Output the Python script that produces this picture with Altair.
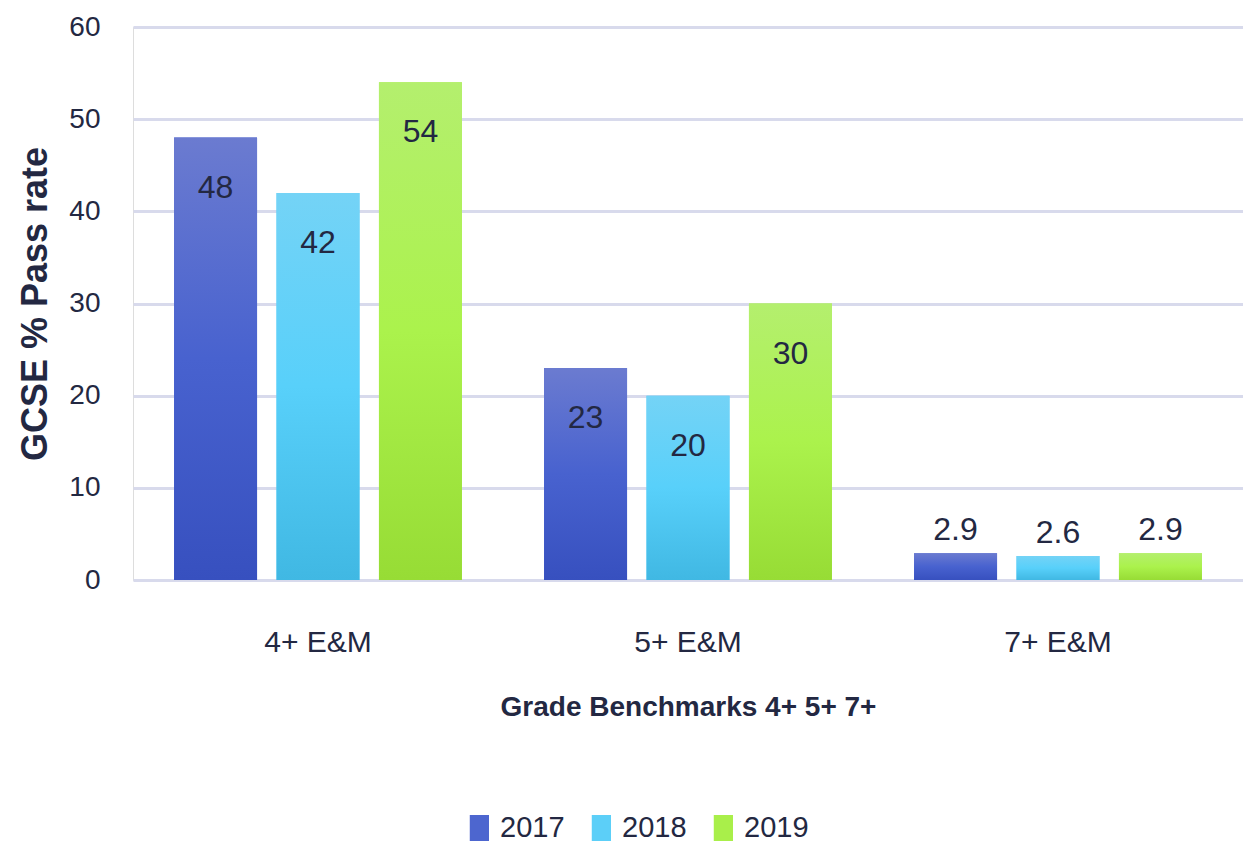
import altair as alt
import pandas as pd

categories = ["4+ E&M", "5+ E&M", "7+ E&M"]
years = ["2017", "2018", "2019"]
values_2017 = [48, 23, 2.9]
values_2018 = [42, 20, 2.6]
values_2019 = [54, 30, 2.9]
y_ticks = [0, 10, 20, 30, 40, 50, 60]

rows = []
for yr, vals in zip(years, [values_2017, values_2018, values_2019]):
    for c, v in zip(categories, vals):
        rows.append({"benchmark": c, "year": yr, "value": v})
df = pd.DataFrame(rows)

solid = ["#4d66cf", "#5ccff8", "#a9ef4a"]
grad_stops = {
    "2017": ["#3750bf", "#4862cf", "#6b7bd0"],
    "2018": ["#40b8e3", "#58d0fa", "#74d3f6"],
    "2019": ["#97dc35", "#abf24c", "#b4ef6e"],
}

TXT = "#232842"
FONT = "Liberation Sans, Arial, sans-serif"

x_enc = alt.X(
    "benchmark:N",
    sort=categories,
    scale=alt.Scale(paddingInner=0.222, paddingOuter=0.111),
    title="Grade Benchmarks 4+ 5+ 7+",
    axis=alt.Axis(
        labelAngle=0, labelFont=FONT, labelFontSize=30, labelColor=TXT,
        labelPadding=47, titleFont=FONT, titleFontSize=28, titleFontWeight="bold",
        titleColor=TXT, titlePadding=36, grid=False, domain=False, ticks=False,
    ),
)
xo_enc = alt.XOffset(
    "year:N", sort=years,
    scale=alt.Scale(domain=years, paddingInner=0.19, paddingOuter=0),
)
y_enc = alt.Y(
    "value:Q",
    scale=alt.Scale(domain=[0, 60]),
    title="GCSE % Pass rate",
    axis=alt.Axis(
        values=y_ticks, labelFont=FONT, labelFontSize=28, labelColor=TXT,
        labelPadding=33, titleFont=FONT,
        titleFontSize=36, titleFontWeight="bold", titleColor=TXT, titlePadding=14,
        grid=True, gridColor="#d8daec", gridWidth=3, domain=False, ticks=False,
    ),
)

base = alt.Chart(df)

legend_bars = base.mark_bar().encode(
    x=x_enc, xOffset=xo_enc, y=y_enc,
    color=alt.Color(
        "year:N", sort=years,
        scale=alt.Scale(domain=years, range=solid),
        legend=alt.Legend(
            title=None, orient="none", direction="horizontal",
            legendX=315, legendY=775,
            symbolType="M-0.163,-0.5H0.577V0.5H-0.163Z", symbolSize=2700,
            symbolStrokeWidth=0, labelFont=FONT, labelFontSize=29,
            labelColor=TXT, labelOffset=0, columnPadding=5,
        ),
    ),
)

grad_layers = []
for yr in years:
    s = grad_stops[yr]
    g = alt.Gradient(
        gradient="linear",
        stops=[
            alt.GradientStop(color=s[0], offset=0),
            alt.GradientStop(color=s[1], offset=0.5),
            alt.GradientStop(color=s[2], offset=1),
        ],
        x1=0, x2=0, y1=1, y2=0,
    )
    grad_layers.append(
        base.mark_bar(color=g).encode(x=x_enc, xOffset=xo_enc, y=y_enc)
        .transform_filter(alt.datum.year == yr)
    )

inside = base.mark_text(
    font=FONT, fontSize=32, color=TXT, dy=50, baseline="middle"
).encode(x=x_enc, xOffset=xo_enc, y=y_enc, text=alt.Text("value:Q")).transform_filter(
    alt.datum.value > 10
)
above = base.mark_text(
    font=FONT, fontSize=32, color=TXT, dy=-23, baseline="middle"
).encode(x=x_enc, xOffset=xo_enc, y=y_enc, text=alt.Text("value:Q")).transform_filter(
    alt.datum.value <= 10
)

chart = alt.layer(legend_bars, *grad_layers, inside, above).properties(
    width=1110, height=553,
    autosize=alt.AutoSizeParams(type="none"),
    padding={"left": 125, "top": 19, "right": 0, "bottom": 266},
).configure_view(stroke=None).configure(background="white")

chart.save("out.html", embed_options={"renderer": "svg", "actions": False})
